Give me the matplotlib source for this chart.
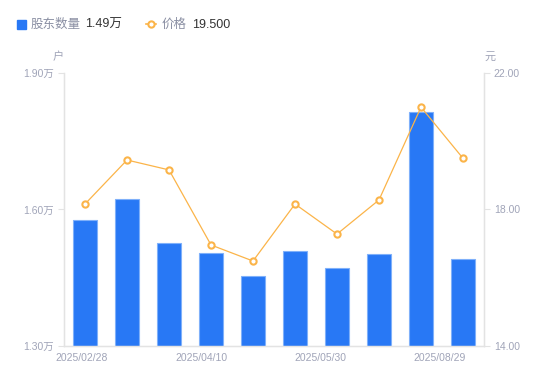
import matplotlib
matplotlib.use('Agg')
from matplotlib import pyplot as plt
from matplotlib.lines import Line2D
import numpy as np

plt.rcParams['font.family'] = ['Liberation Sans', 'Noto Sans CJK SC', 'DejaVu Sans']
plt.rcParams['axes.unicode_minus'] = False

# 数据
dates = ['2025/02/28', '2025/03/10', '2025/03/31', '2025/04/10', '2025/04/18',
         '2025/04/30', '2025/05/30', '2025/06/30', '2025/07/31', '2025/08/29']
holders = [1.577, 1.623, 1.526, 1.504, 1.454, 1.509, 1.471, 1.502, 1.814, 1.491]  # 万户
price = [18.16, 19.45, 19.16, 16.96, 16.49, 18.16, 17.28, 18.28, 21.00, 19.50]
left_ticks = [1.30, 1.60, 1.90]
right_ticks = [14.0, 18.0, 22.0]
shown = [0, 3, 6, 9]

blue = '#2878f5'
orange = '#fbb449'
gray = '#a0a4b8'
axis_c = '#e3e3e3'

fig = plt.figure(figsize=(5.5, 3.81), dpi=100)
ax = fig.add_axes([0.1164, 0.0919, 0.7636, 0.7165])
x = np.arange(len(dates))

ax.bar(x, holders, width=0.57, color=blue, edgecolor='#7fb0fa', linewidth=0.8,
       bottom=0, zorder=2)
ax.set_ylim(1.30, 1.90)
ax.set_xlim(-0.5, len(dates) - 0.5)
ax.set_yticks(left_ticks)
ax.set_yticklabels(['%.2f万' % v for v in left_ticks])

ax2 = ax.twinx()
ax2.plot(x, price, color=orange, lw=0.9, marker='o', ms=4.5, mfc='white',
         mec=orange, mew=1.5, zorder=3)
ax2.set_ylim(14, 22)
ax2.set_yticks(right_ticks)
ax2.set_yticklabels(['%.2f' % v for v in right_ticks])

# x轴标签（均匀分布）
ax.set_xticks(np.linspace(-0.07, 8.45, 4))
ax.set_xticklabels([dates[i] for i in shown])
ax.tick_params(axis='x', length=0, pad=5, labelsize=7.5, labelcolor=gray)
ax.tick_params(axis='y', length=4, width=0.8, color=axis_c, pad=3,
               labelsize=7.5, labelcolor=gray)
ax2.tick_params(axis='y', length=4, width=0.8, color=axis_c, pad=3,
                labelsize=7.5, labelcolor=gray)

for a in (ax, ax2):
    a.spines['top'].set_visible(False)
    for s in ('left', 'right', 'bottom'):
        a.spines[s].set_color(axis_c)
        a.spines[s].set_linewidth(0.9)

fig.text(58 / 550, 1 - 57 / 381, '户', color=gray, fontsize=8, ha='center', va='center')
fig.text(490 / 550, 1 - 57 / 381, '元', color=gray, fontsize=8, ha='center', va='center')

# 图例
leg_y = 1 - 25 / 381
fig.patches.append(plt.Rectangle((17 / 550, 1 - 29 / 381), 9 / 550, 9 / 381,
                                 transform=fig.transFigure, color=blue, figure=fig))
fig.text(31 / 550, leg_y, '股东数量', color='#8a8fa3', fontsize=9, va='center')
fig.text(85 / 550, leg_y, '%.2f万' % holders[-1], color='#333333', fontsize=9, va='center')
fig.lines.append(Line2D([146 / 550, 151 / 550, 156 / 550], [1 - 24 / 381] * 3,
                        transform=fig.transFigure, color=orange, lw=1.2, marker='o',
                        ms=4.5, mfc='white', mec=orange, mew=1.5, markevery=[1],
                        figure=fig))
fig.text(162 / 550, leg_y, '价格', color='#8a8fa3', fontsize=9, va='center')
fig.text(192 / 550, leg_y, '%.3f' % price[-1], color='#333333', fontsize=9, va='center')

fig.savefig('out.png', dpi=100)
